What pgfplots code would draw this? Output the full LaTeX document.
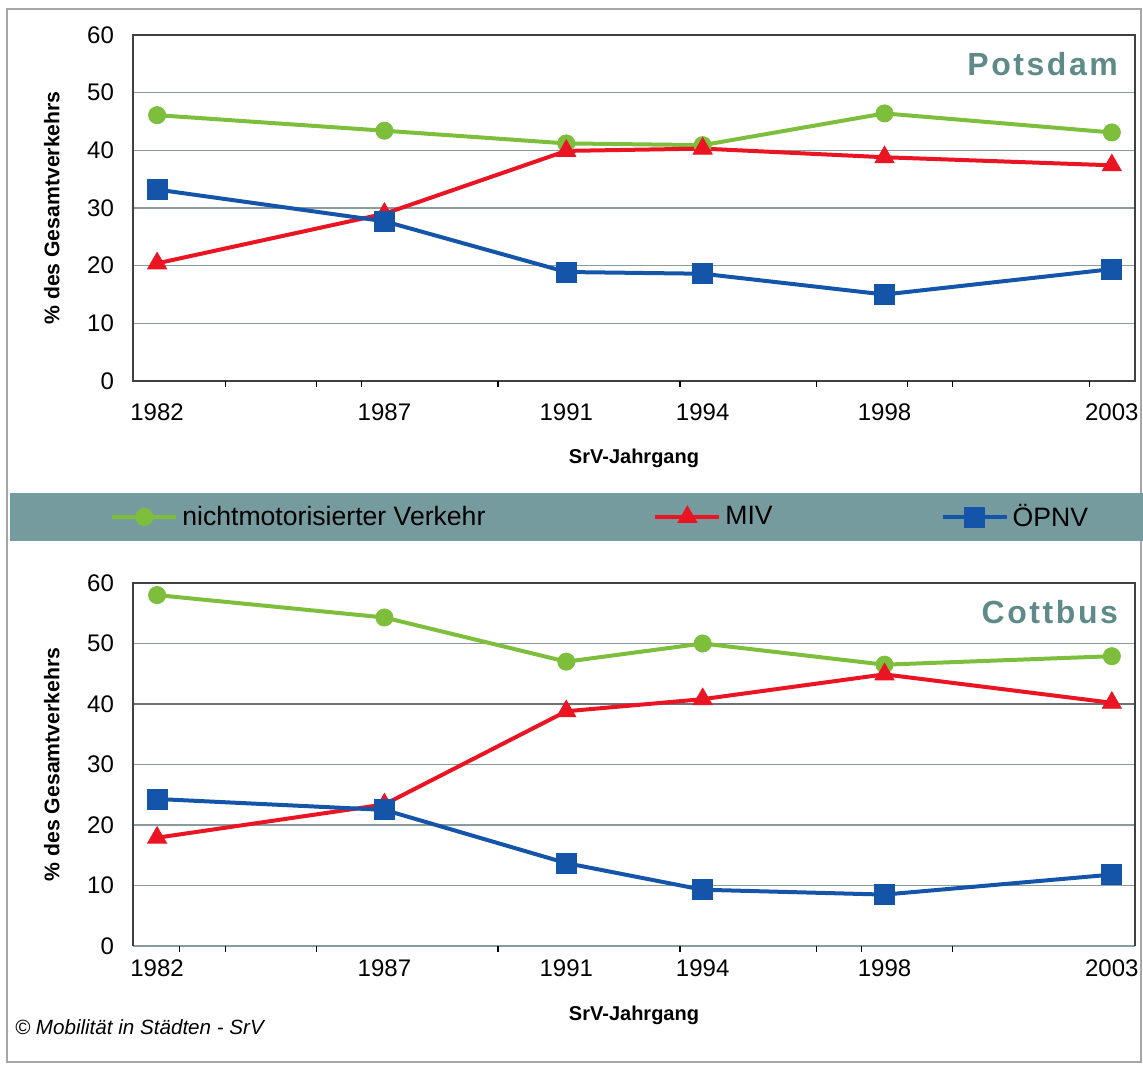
\documentclass[border=0pt]{standalone}
\usepackage{fontspec}
\setmainfont{Liberation Sans}
\newfontfamily\titlefont[LetterSpace=8]{Liberation Sans}
\usepackage{pgfplots}
\pgfplotsset{compat=1.18}

\definecolor{cgreen}{HTML}{7DBE3C}
\definecolor{cred}{HTML}{EB1423}
\definecolor{cblue}{HTML}{1455AA}
\definecolor{ctitle}{HTML}{5E8A8A}
\definecolor{cband}{HTML}{769B9F}
\definecolor{cgrid}{HTML}{889C9C}
\definecolor{cframe}{HTML}{404040}

\pgfplotsset{
 panel/.style={
  scale only axis, width=501pt,
  xmin=1981.47, xmax=2003.51, ymin=0, ymax=60,
  xtick={1982,1987,1991,1994,1998,2003},
  xticklabels={1982,1987,1991,1994,1998,2003},
  ytick={0,10,...,60},
  major tick length=0pt,
  tick align=outside,
  tick pos=left,
  ymajorgrids, grid style={cgrid, line width=0.7pt},
  ticklabel style={font=\fontsize{12}{13}\selectfont},
  /pgf/number format/assume math mode=true,
  yticklabel style={xshift=-6pt},
  xlabel={SrV-Jahrgang}, ylabel={\% des Gesamtverkehrs},
  every axis y label/.style={at={(axis description cs:-0.081,0.5)},rotate=90,anchor=center,
    font=\bfseries\fontsize{10.6}{12}\selectfont},
  extra x tick style={major tick length=3pt, grid=none, tick style={black, line width=0.6pt}},
  extra x tick labels={},
  clip=false,
 },
 gr/.style={cgreen, line width=2pt, mark=*, mark size=4.3pt, mark options={solid,fill=cgreen,draw=cgreen,line width=0.4pt}},
 rd/.style={cred, line width=2pt, mark=triangle*, mark size=5.5pt, mark options={solid,fill=cred,draw=cred,line width=0.4pt}},
 bl/.style={cblue, line width=2pt, mark=square*, mark size=5pt, mark options={solid,fill=cblue,draw=cblue,line width=0.4pt}},
}

\begin{document}
\begin{tikzpicture}
\useasboundingbox (0,0) rectangle (571.5pt,-532pt);
\draw[gray!70, line width=0.6pt] (3.5pt,-4.5pt) rectangle (570.5pt,-531pt);
\fill[cband] (5pt,-246.5pt) rectangle (571.5pt,-270.5pt);

% Potsdam
\begin{axis}[panel, at={(66.5pt,-17.5pt)}, anchor=north west, height=173pt,
  axis line style={cframe, line width=0.8pt},
  xticklabel style={yshift=-8pt},
  every axis x label/.style={at={(axis description cs:0.5,-0.2225)},anchor=center,
    font=\bfseries\fontsize{10}{12}\selectfont},
  extra x ticks={1983.5,1985.5,1986.5,1989.5,1993.5,1996.5,1998.5,1999.5,2002.5},
  legend style={at={(axis description cs:-0.023,-0.393)}, anchor=west, draw=none, fill=none,
    legend columns=3, font=\fontsize{13.3}{14}\selectfont, inner sep=0pt,
    /tikz/every even column/.append style={column sep=82pt}},
  legend image code/.code={\draw[mark repeat=2,mark phase=2,#1] plot coordinates {(0pt,0pt) (16pt,0pt) (32pt,0pt)};},
]
\addplot[gr] coordinates {(1982,46.1) (1987,43.4) (1991,41.2) (1994,40.9) (1998,46.4) (2003,43.1)};
\addplot[rd] coordinates {(1982,20.4) (1987,29.0) (1991,39.9) (1994,40.3) (1998,38.8) (2003,37.4)};
\addplot[bl] coordinates {(1982,33.2) (1987,27.7) (1991,18.9) (1994,18.6) (1998,15.0) (2003,19.4)};
\legend{nichtmotorisierter Verkehr, MIV, ÖPNV}
\node[anchor=east, font=\titlefont\bfseries\fontsize{16}{18}\selectfont, text=ctitle] at (rel axis cs:0.990,0.916) {Potsdam};
\end{axis}

% Cottbus
\begin{axis}[panel, at={(66.5pt,-291.5pt)}, anchor=north west, height=181.5pt,
  axis line style={draw=none},
  xticklabel style={yshift=-3.3pt},
  every axis x label/.style={at={(axis description cs:0.5,-0.19)},anchor=center,
    font=\bfseries\fontsize{10}{12}\selectfont},
  extra x ticks={1982.5,1983.5,1985.5,1989.5,1993.5,1996.5,1997.5,1999.5},
  extra y ticks={40}, extra y tick labels={},
  extra y tick style={grid=major, major grid style={cframe!75, line width=1.1pt}},
]
\addplot[gr] coordinates {(1982,58.0) (1987,54.3) (1991,47.0) (1994,50.0) (1998,46.5) (2003,47.9)};
\addplot[rd] coordinates {(1982,17.9) (1987,23.4) (1991,38.8) (1994,40.8) (1998,44.9) (2003,40.2)};
\addplot[bl] coordinates {(1982,24.3) (1987,22.5) (1991,13.7) (1994,9.3) (1998,8.5) (2003,11.8)};
\draw[cframe, line width=0.8pt] (rel axis cs:0,0) -- (rel axis cs:0,1) -- (rel axis cs:1,1) -- (rel axis cs:1,0);
\node[anchor=east, font=\titlefont\bfseries\fontsize{16}{18}\selectfont, text=ctitle] at (rel axis cs:0.990,0.92) {Cottbus};
\end{axis}

\node[anchor=west, font=\itshape\fontsize{10.3}{12}\selectfont] at (4pt,-513.5pt) {© Mobilität in Städten - SrV};
\end{tikzpicture}
\end{document}
